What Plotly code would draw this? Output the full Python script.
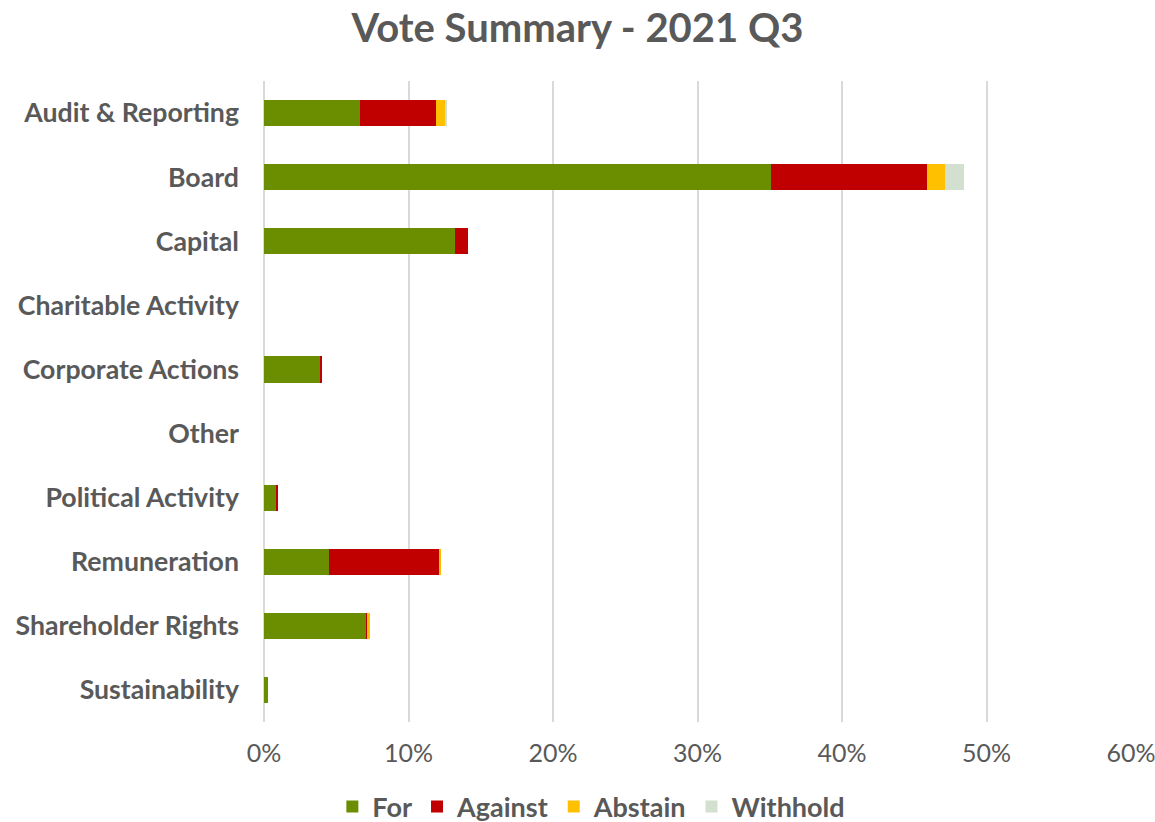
import plotly.graph_objects as go

categories = ["Audit & Reporting", "Board", "Capital", "Charitable Activity",
              "Corporate Actions", "Other", "Political Activity", "Remuneration",
              "Shareholder Rights", "Sustainability"]
for_vals = [6.65, 35.07, 13.24, 0, 3.88, 0, 0.83, 4.50, 7.07, 0.25]
against_vals = [5.27, 10.81, 0.87, 0, 0.14, 0, 0.12, 7.58, 0.09, 0]
abstain_vals = [0.58, 1.25, 0, 0, 0, 0, 0, 0.16, 0.16, 0]
withhold_vals = [0.16, 1.34, 0, 0, 0, 0, 0, 0, 0, 0]
tick_vals = [0, 10, 20, 30, 40, 50, 60]
tick_text = ["0%", "10%", "20%", "30%", "40%", "50%", "60%"]

series = [("For", for_vals, "#6b8e00"), ("Against", against_vals, "#c00000"),
          ("Abstain", abstain_vals, "#ffc000"), ("Withhold", withhold_vals, "#d3e0d0")]

fig = go.Figure()
for name, vals, color in series:
    fig.add_trace(go.Bar(y=categories, x=vals, name=name, orientation="h",
                         marker=dict(color=color, line=dict(width=0))))

fig.update_layout(
    barmode="stack",
    bargap=0.59,
    width=1155, height=822,
    paper_bgcolor="white", plot_bgcolor="white",
    margin=dict(l=264, r=24, t=81, b=100, autoexpand=False),
    font=dict(family="Lato", color="#595959"),
    title=dict(text="<b>Vote Summary - 2021 Q3</b>", x=0.5, xref="container", xanchor="center",
               y=1 - 28 / 822, yref="container", yanchor="middle",
               font=dict(size=40, color="#595959", family="Lato")),
    legend=dict(orientation="h", xref="container", x=0.512, xanchor="center",
                yref="container", y=15 / 822, yanchor="middle",
                font=dict(size=27, color="#595959", family="Lato", weight="bold"),
                traceorder="normal"),
    showlegend=True,
    hovermode=False,
)
fig.update_xaxes(range=[0, 60], tickvals=tick_vals, ticktext=tick_text,
                 showgrid=True, gridcolor="#d9d9d9", gridwidth=2,
                 zeroline=True, zerolinecolor="#d9d9d9", zerolinewidth=2,
                 tickfont=dict(size=25, color="#595959", family="Lato"),
                 showline=False, ticks="", ticklen=0, ticklabelstandoff=14,
                 ticklabeloverflow="allow", automargin=False)
fig.update_yaxes(autorange="reversed", showgrid=False, ticks="", ticklen=0,
                 tickfont=dict(size=26.7, color="#595959", family="Lato", weight="bold"),
                 ticklabelstandoff=24, automargin=False)
fig.write_html("out.html", config={"displayModeBar": False, "staticPlot": True},
               post_script="document.body.style.margin='0';document.body.style.overflow='hidden';")
